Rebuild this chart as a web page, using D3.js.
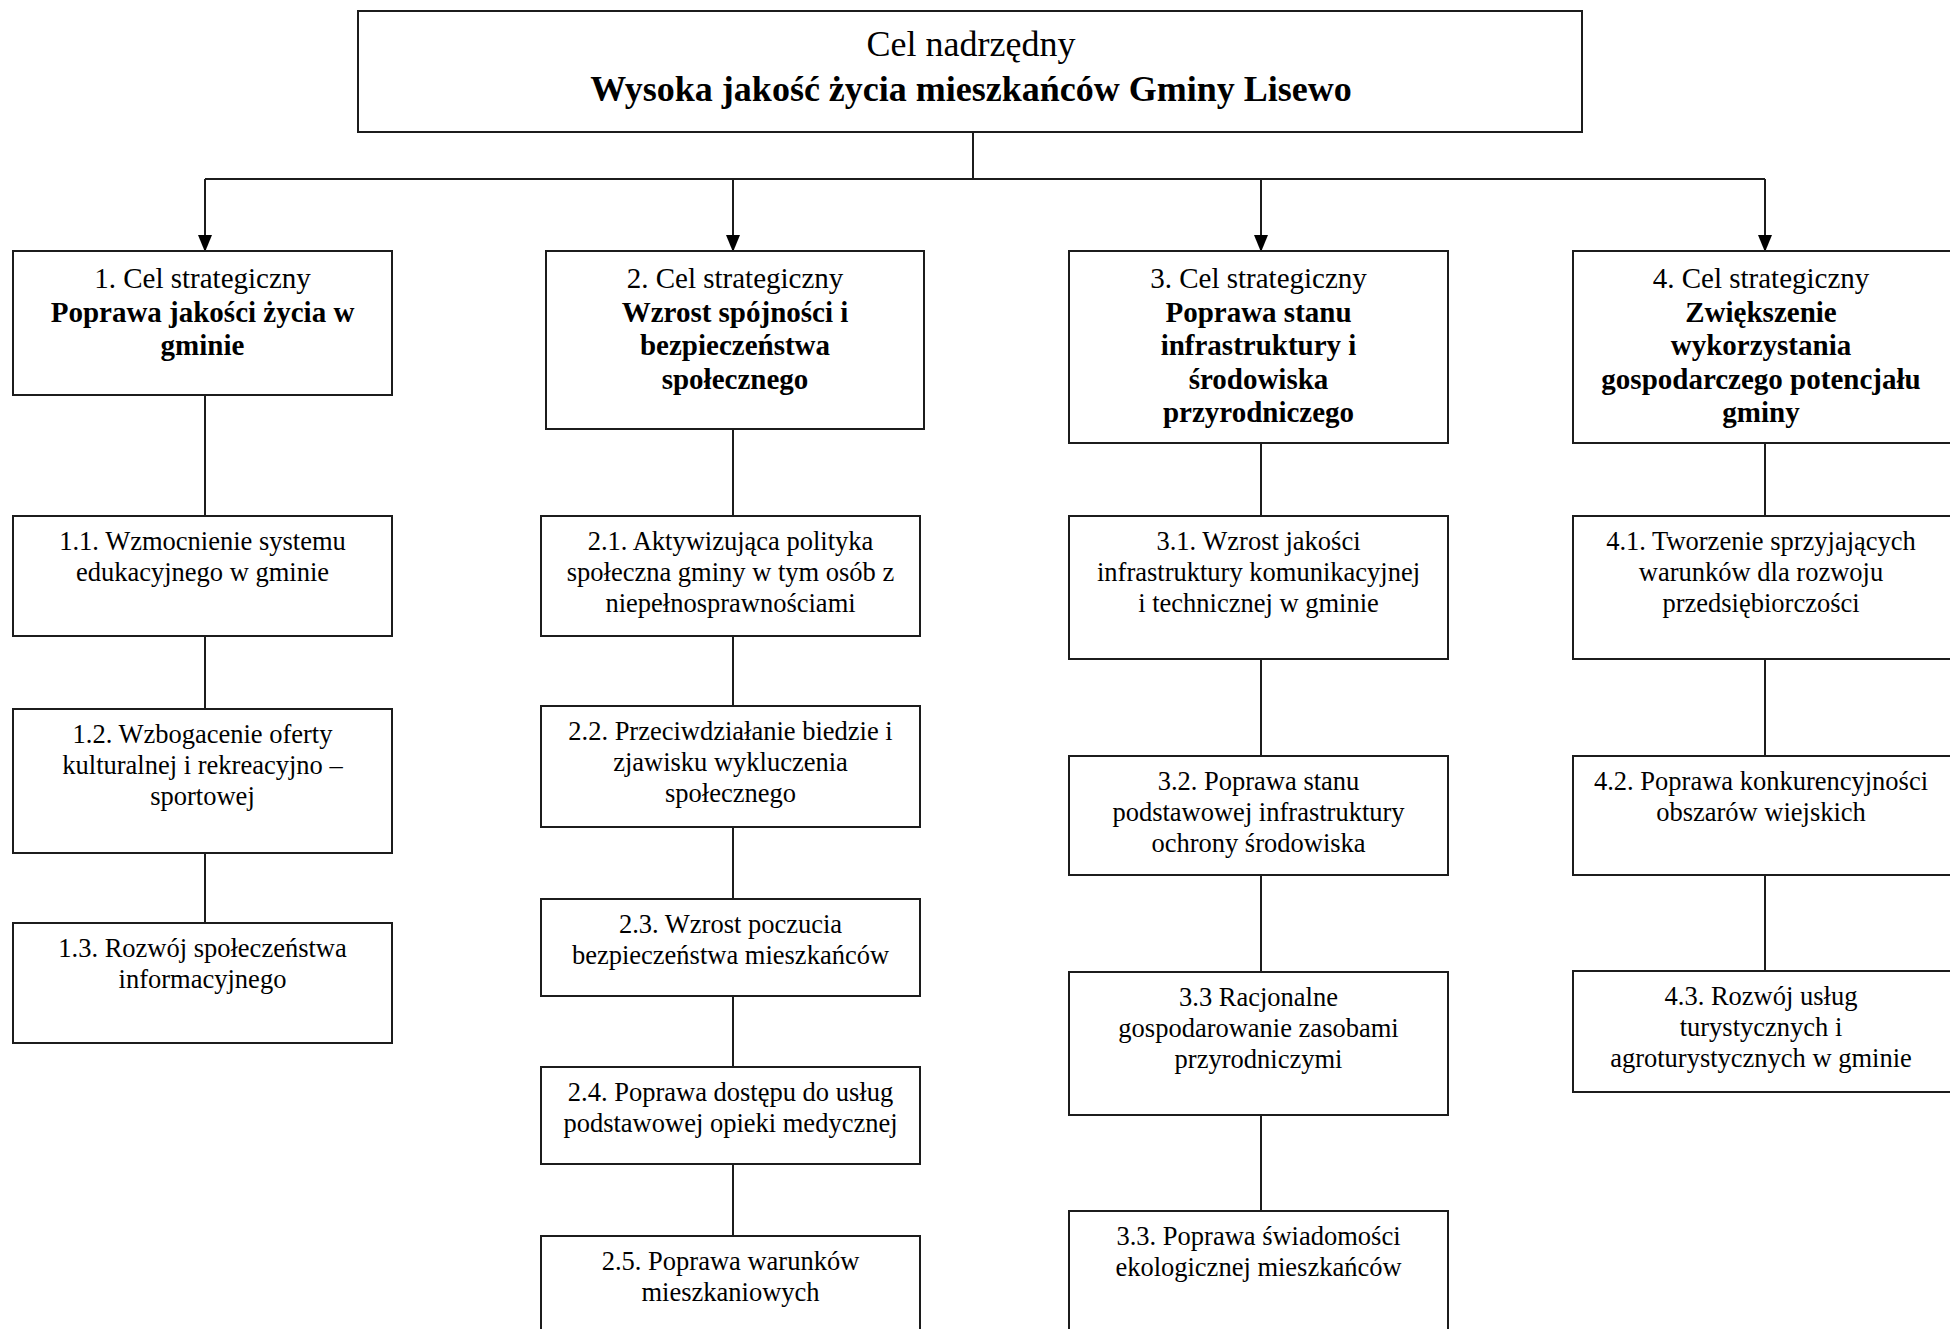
<!DOCTYPE html>
<html lang="pl">
<head>
  <meta charset="utf-8">
  <title>Cel nadrzędny - drzewo celów</title>
  <script src="https://d3js.org/d3.v7.min.js"></script>
  <style>
    body { margin: 0; background: #fff; overflow: hidden; }
    text { font-family: "Liberation Serif", "Times New Roman", serif; fill: #000; }
  </style>
</head>
<body>
<svg id="chart" width="1950" height="1329"></svg>
<script>
  // --- data ---
  var topLines = ["Cel nadrzędny", "Wysoka jakość życia mieszkańców Gminy Lisewo"];

  var goalHeads = ["1. Cel strategiczny", "2. Cel strategiczny", "3. Cel strategiczny", "4. Cel strategiczny"];

  var goalNames = [
    ["Poprawa jakości życia w", "gminie"],
    ["Wzrost spójności i", "bezpieczeństwa", "społecznego"],
    ["Poprawa stanu", "infrastruktury i", "środowiska", "przyrodniczego"],
    ["Zwiększenie", "wykorzystania", "gospodarczego potencjału", "gminy"]
  ];

  var subGoals = [
    [
      ["1.1. Wzmocnienie systemu", "edukacyjnego w gminie"],
      ["1.2. Wzbogacenie oferty", "kulturalnej i rekreacyjno –", "sportowej"],
      ["1.3. Rozwój społeczeństwa", "informacyjnego"]
    ],
    [
      ["2.1. Aktywizująca polityka", "społeczna gminy w tym osób z", "niepełnosprawnościami"],
      ["2.2. Przeciwdziałanie biedzie i", "zjawisku wykluczenia", "społecznego"],
      ["2.3. Wzrost poczucia", "bezpieczeństwa mieszkańców"],
      ["2.4. Poprawa dostępu do usług", "podstawowej opieki medycznej"],
      ["2.5. Poprawa warunków", "mieszkaniowych"]
    ],
    [
      ["3.1. Wzrost jakości", "infrastruktury komunikacyjnej", "i technicznej w gminie"],
      ["3.2. Poprawa stanu", "podstawowej infrastruktury", "ochrony środowiska"],
      ["3.3 Racjonalne", "gospodarowanie zasobami", "przyrodniczymi"],
      ["3.3. Poprawa świadomości", "ekologicznej mieszkańców"]
    ],
    [
      ["4.1. Tworzenie sprzyjających", "warunków dla rozwoju", "przedsiębiorczości"],
      ["4.2. Poprawa konkurencyjności", "obszarów wiejskich"],
      ["4.3. Rozwój usług", "turystycznych i", "agroturystycznych w gminie"]
    ]
  ];

  // --- layout (page pixels) ---
  var topBox = {x0: 358, x1: 1582, y0: 11, y1: 132};
  var busY = 179;
  var colCenter = d3.scaleOrdinal().domain([0, 1, 2, 3]).range([205, 733, 1261, 1765]);
  var goalBoxX = [[13, 392], [546, 924], [1069, 1448], [1573, 1957]];
  var subBoxX = [[13, 392], [541, 920], [1069, 1448], [1573, 1957]];
  var goalBoxY = [[251, 395], [251, 429], [251, 443], [251, 443]];
  var subBoxY = [
    [[516, 636], [709, 853], [923, 1043]],
    [[516, 636], [706, 827], [899, 996], [1067, 1164], [1236, 1350]],
    [[516, 659], [756, 875], [972, 1115], [1211, 1350]],
    [[516, 659], [756, 875], [971, 1092]]
  ];

  var ink = "#1c1c1c";
  var svg = d3.select("#chart");

  svg.append("defs").append("marker")
    .attr("id", "arrow")
    .attr("viewBox", "0 0 17 14")
    .attr("refX", 16).attr("refY", 7)
    .attr("markerUnits", "userSpaceOnUse")
    .attr("markerWidth", 17).attr("markerHeight", 14)
    .attr("orient", "auto")
    .append("path")
    .attr("d", "M0,0 L17,7 L0,14 Z")
    .attr("fill", "#000");

  var links = svg.append("g").attr("stroke", ink).attr("stroke-width", 2).attr("fill", "none");
  var boxes = svg.append("g");

  function box(x0, x1, y0, y1) {
    boxes.append("rect")
      .attr("x", x0).attr("y", y0)
      .attr("width", x1 - x0).attr("height", y1 - y0)
      .attr("fill", "#fff").attr("stroke", ink).attr("stroke-width", 2);
  }

  // top box
  box(topBox.x0, topBox.x1, topBox.y0, topBox.y1);
  var topCx = (topBox.x0 + topBox.x1) / 2;
  boxes.selectAll("text.top")
    .data(topLines)
    .enter().append("text")
    .attr("class", "top")
    .attr("x", topCx + 1)
    .attr("y", function(d, i) { return 56 + i * 45; })
    .attr("text-anchor", "middle")
    .attr("font-size", "36px")
    .attr("font-weight", function(d, i) { return i === 1 ? "bold" : "normal"; })
    .text(function(d) { return d; });

  // trunk + bus
  links.append("line").attr("x1", 973).attr("x2", 973).attr("y1", topBox.y1).attr("y2", busY);
  links.append("line").attr("x1", colCenter(0)).attr("x2", colCenter(3)).attr("y1", busY).attr("y2", busY);

  goalHeads.forEach(function(head, c) {
    var cx = colCenter(c);
    // arrow down to goal box
    links.append("line")
      .attr("x1", cx).attr("x2", cx)
      .attr("y1", busY).attr("y2", goalBoxY[c][0])
      .attr("marker-end", "url(#arrow)");

    var gx = goalBoxX[c], gy = goalBoxY[c];
    box(gx[0], gx[1], gy[0], gy[1]);
    var tx = c === 3 ? 1761 : (gx[0] + gx[1]) / 2;
    var lines = [head].concat(goalNames[c]);
    boxes.selectAll(null)
      .data(lines)
      .enter().append("text")
      .attr("x", tx)
      .attr("y", function(d, i) { return gy[0] + 37 + i * 33.5; })
      .attr("text-anchor", "middle")
      .attr("font-size", "29px")
      .attr("font-weight", function(d, i) { return i === 0 ? "normal" : "bold"; })
      .text(function(d) { return d; });

    // sub-goals
    var prevBottom = gy[1];
    subGoals[c].forEach(function(sub, k) {
      var sy = subBoxY[c][k], sx = subBoxX[c];
      links.append("line")
        .attr("x1", cx).attr("x2", cx)
        .attr("y1", prevBottom).attr("y2", sy[0]);
      box(sx[0], sx[1], sy[0], sy[1]);
      var stx = c === 3 ? 1761 : (sx[0] + sx[1]) / 2;
      boxes.selectAll(null)
        .data(sub)
        .enter().append("text")
        .attr("x", stx)
        .attr("y", function(d, i) { return sy[0] + 34 + i * 31; })
        .attr("text-anchor", "middle")
        .attr("font-size", "26.5px")
        .text(function(d) { return d; });
      prevBottom = sy[1];
    });
  });
</script>
</body>
</html>
